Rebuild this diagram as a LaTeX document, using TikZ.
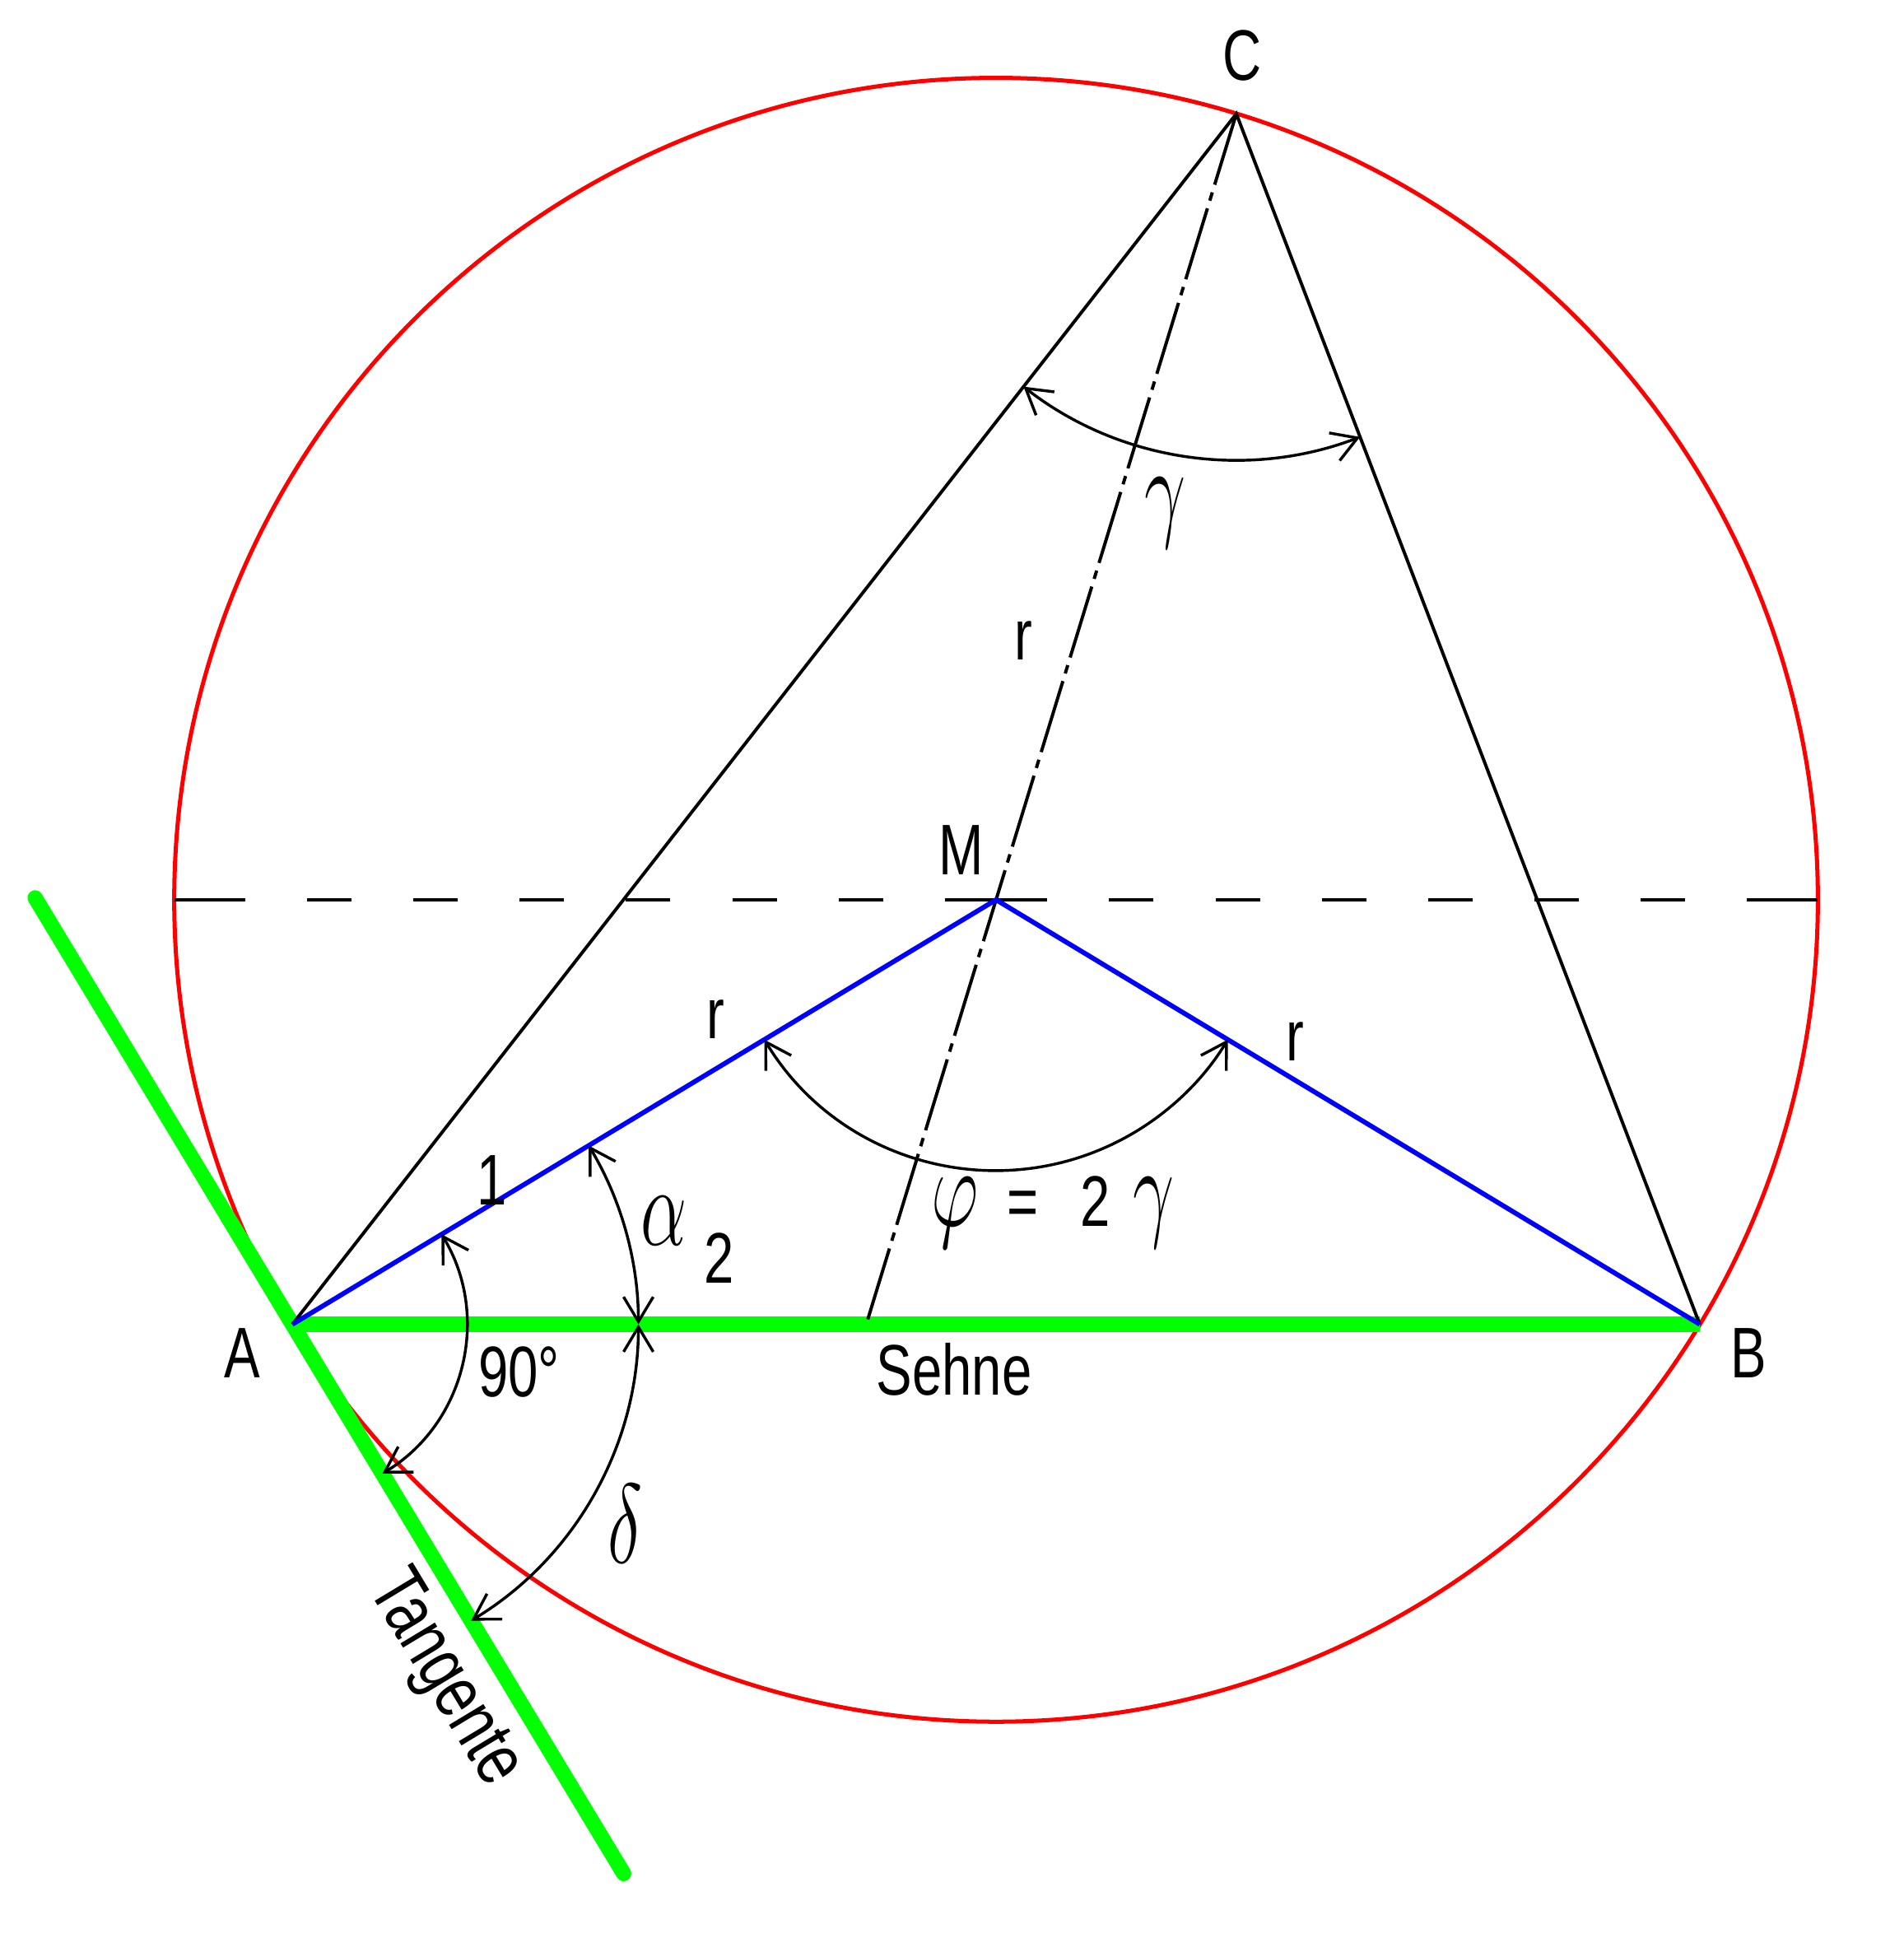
\RequirePackage{fix-cm}
\documentclass[tikz,border=0pt]{standalone}
\usepackage{fontspec}
\setmainfont{Liberation Sans}[FakeStretch=0.75]
\usepackage{graphicx}
\usepackage{tikz}
\usetikzlibrary{calc, arrows.meta}
\tikzstyle{dimarrow} = [line width=0.65pt, {Straight Barb[length=2mm,width=2.4mm]}-{Straight Barb[length=2mm,width=2.4mm]}]
\tikzstyle{lbl} = [inner sep=0pt, font=\fontsize{16.5}{18}\selectfont]
\tikzstyle{centreline} = [line width=0.75pt, dash pattern=on 0.415cm off 0.5cm on 0.36cm off 0.5cm on 0.36cm off 0.5cm on 0.36cm off 0.5cm on 0.36cm off 0.5cm on 0.36cm off 0.5cm on 0.36cm off 0.5cm on 1cm off 0.5cm]
\tikzstyle{axisline} = [line width=0.75pt, dash pattern=on 0.6cm off 0.065cm on 0.07cm off 0.065cm]
\newcommand{\gk}[1]{{\fontsize{26}{28}\selectfont\scalebox{0.65}[1]{$#1$}}}

\begin{document}
\begin{tikzpicture}
        \useasboundingbox (-8.06,-8.40) rectangle (7.34,7.28);
        % Points of the figure
        \coordinate (M) at (0,0);
        \coordinate (A) at (211.1:6.65);
        \coordinate (B) at (328.9:6.65);
        \coordinate (C) at (73:6.65);
        \coordinate (D) at (253:3.592);
        \coordinate (L) at (180:6.65);
        \coordinate (R) at (0:6.65);
        \coordinate (T1) at ($(A)+(121.1:4.03)$);
        \coordinate (T2) at ($(A)+(-58.9:5.19)$);

        % Draw the circle
        \draw[red, line width=0.95pt] (M) circle (6.65);

        % Tangent and chord
        \draw[green, line width=3.5pt, line cap=round] (T1) -- (T2);
        \draw[green, line width=3.5pt] (A) -- (B);

        % Horizontal centre line
        \draw[centreline] (M) -- (L);
        \draw[centreline] (M) -- (R);

        % Triangle and the line through C and M
        \draw[line width=0.75pt] (A) -- (C) -- (B);
        \draw[axisline] (C) -- (D);

        % Radii
        \draw[blue, line width=1.1pt] (A) -- (M) -- (B);

        % Angles
        \draw[dimarrow] (C) ++(232.05:2.8) arc[start angle=232.05, end angle=290.95, radius=2.8];
        \draw[dimarrow] (M) ++(211.1:2.19) arc[start angle=211.1, end angle=328.9, radius=2.19];
        \draw[dimarrow] (A) ++(31.1:2.8) arc[start angle=31.1, end angle=0, radius=2.8];
        \draw[dimarrow] (A) ++(0:2.8) arc[start angle=0, end angle=-58.9, radius=2.8];
        \draw[dimarrow] (A) ++(31.1:1.41) arc[start angle=31.1, end angle=-58.9, radius=1.41];

        % Labels
        \node[lbl] (labC) at (1.99,6.83) {C};
        \node[lbl] (labM) at (-0.28,0.40) {M};
        \node[lbl] (labA) at (-6.10,-3.67) {A};
        \node[lbl] (labB) at (6.09,-3.67) {B};
        \node[lbl] (rCM) at (0.22,2.10) {r};
        \node[lbl] (rAM) at (-2.27,-0.97) {r};
        \node[lbl] (rMB) at (2.42,-1.15) {r};
        \node[lbl] (one) at (-4.08,-2.27) {1};
        \node[lbl] (right) at (-3.86,-3.82) {90°};
        \node[lbl] (sehne) at (-0.34,-3.80) {Sehne};
        \node[lbl, font=\fontsize{17.5}{19}\selectfont, rotate=-58.9] (tang) at (-4.47,-6.31) {Tangente};
        \node[lbl] (gam) at (1.37,3.13) {\gk{\gamma}};
        \node[lbl] (alp) at (-2.69,-2.60) {\gk{\alpha}};
        \node[lbl] (two) at (-2.24,-2.90) {2};
        \node[lbl] (del) at (-3.00,-5.05) {\gk{\delta}};
        \node[lbl, anchor=base] (phi) at (0.46,-2.64) {\gk{\varphi}\hspace{0.23cm}=\hspace{0.34cm}2\hspace{0.18cm}\gk{\gamma}};
    \end{tikzpicture}
\end{document}
